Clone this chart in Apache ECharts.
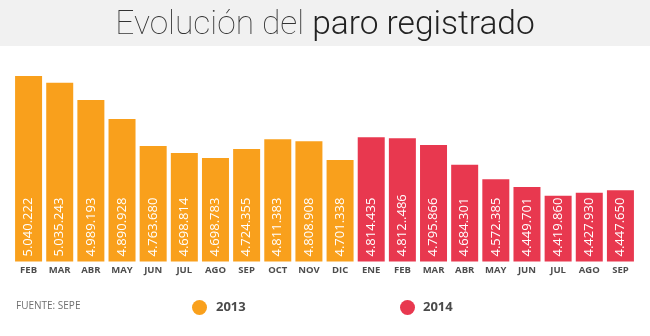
<!DOCTYPE html>
<html>
<head>
<meta charset="utf-8">
<script src="https://cdn.jsdelivr.net/npm/echarts@6/dist/echarts.min.js"></script>
<style>html,body{margin:0;padding:0;background:#fff;}#c{width:650px;height:336px;}</style>
</head>
<body>
<div id="c"></div>
<script>
// Months shown on the x axis
var months = ['FEB','MAR','ABR','MAY','JUN','JUL','AGO','SEP','OCT','NOV','DIC','ENE','FEB','MAR','ABR','MAY','JUN','JUL','AGO','SEP'];
// Year of each bar
var years = ['2013','2013','2013','2013','2013','2013','2013','2013','2013','2013','2013','2014','2014','2014','2014','2014','2014','2014','2014','2014'];
// Value labels printed inside the bars (as in the picture)
var valueLabels = ['5.040.222','5.035.243','4.989.193','4.890.928','4.763.680','4.698.814','4.698.783','4.724.355','4.811.383','4.808.908','4.701.338','4.814.435','4.812..486','4.795.866','4.684.301','4.572.385','4.449.701','4.419.860','4.427.930','4.447.650'];
// Relative bar heights as drawn in the picture (the infographic is not to scale)
var barHeights = [185.5,178.8,161.5,142.5,115.5,108.5,103.5,112.5,122.2,120.2,101.5,124.2,123.2,116.5,96.8,82.2,74.5,65.8,68.8,71.2];
var seriesNames = ['2013','2014'];
var colors = {'2013':'#f9a01c','2014':'#e8384f'};

var chart = echarts.init(document.getElementById('c'), null, {renderer:'canvas'});
var series = seriesNames.map(function(name){
  return {
    name: name,
    type: 'bar',
    barWidth: 27,
    barGap: '-100%',
    itemStyle: {color: colors[name]},
    data: barHeights.map(function(v,i){ return years[i]===name ? v : '-'; }),
    label: {
      show: true,
      position: 'insideBottom',
      rotate: 90,
      align: 'left',
      verticalAlign: 'middle',
      distance: 5,
      color: '#fff',
      fontFamily: 'Open Sans',
      fontSize: 13,
      formatter: function(p){ return valueLabels[p.dataIndex]; }
    }
  };
});
chart.setOption({
  animation: false,
  backgroundColor: '#fff',
  graphic: [{type:'rect', shape:{x:0,y:0,width:650,height:46}, style:{fill:'#f1f1f1'}, z:-1},
            {type:'text', left:16, top:301, style:{text:'FUENTE: SEPE', fill:'#6f6f6f', font:'10px "Open Sans"'}}],
  title: {
    left: 'center', top: 4,
    text: '{a|Evolución del }{b|paro registrado}',
    textStyle: {
      rich: {
        a: {fontFamily:'Roboto', fontWeight:100, fontSize:33.5, color:'#333'},
        b: {fontFamily:'Roboto', fontWeight:300, fontSize:33.5, color:'#222'}
      }
    }
  },
  legend: [
    {data:['2013'], left:187, top:295, icon:'circle', itemWidth:15, itemHeight:15,
     textStyle:{fontFamily:'Open Sans', fontWeight:'bold', fontSize:13, color:'#4a4a4a', padding:[0,0,0,4]}},
    {data:['2014'], left:395, top:295, icon:'circle', itemWidth:15, itemHeight:15,
     textStyle:{fontFamily:'Open Sans', fontWeight:'bold', fontSize:13, color:'#4a4a4a', padding:[0,0,0,3]}}
  ],
  grid: {left:13, right:14, top:60, bottom:74.5},
  xAxis: {
    type: 'category', data: months,
    axisLine:{show:false}, axisTick:{show:false},
    axisLabel:{interval:0, margin:4, fontFamily:'Open Sans', fontWeight:'bold', fontSize:9.5, color:'#4d4d4d'}
  },
  yAxis: {type:'value', min:0, max:201.5, show:false, splitLine:{show:false}},
  series: series
});
</script>
</body>
</html>
